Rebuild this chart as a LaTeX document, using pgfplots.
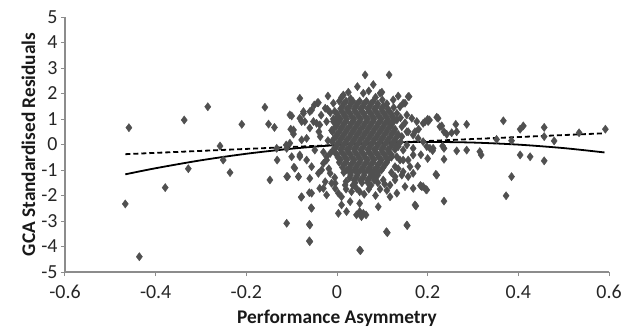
\documentclass[border=0pt]{standalone}
\usepackage{fontspec}
\setmainfont{Carlito}
\usepackage{pgfplots}
\pgfplotsset{compat=1.18}
\definecolor{markgray}{RGB}{80,80,80}
\definecolor{axgray}{RGB}{140,140,140}
\begin{document}
\begin{tikzpicture}[x=1bp,y=1bp]
\begin{axis}[
  at={(0,0)}, anchor=south west,
  scale only axis, width=544bp, height=255bp,
  xmin=-0.6, xmax=0.6, ymin=-5, ymax=5,
  xtick={-0.6,-0.4,-0.2,0,0.2,0.4,0.6},
  xticklabels={-0.6,-0.4,-0.2,0,0.2,0.4,0.6},
  ytick={-5,-4,-3,-2,-1,0,1,2,3,4,5},
  yticklabels={-5,-4,-3,-2,-1,0,1,2,3,4,5},
  axis lines*=left,
  axis line style={draw=axgray, line width=1.4bp},
  tick style={draw=axgray, line width=1bp},
  tick align=outside, major tick length=4bp,
  ticklabel style={font=\fontsize{20}{22}\selectfont, text=black!85},
  xticklabel style={yshift=-6bp},
  xlabel={Performance Asymmetry},
  ylabel={GCA Standardised Residuals},
  label style={font=\fontsize{19.4}{21}\selectfont\bfseries, text=black!90},
  xlabel style={at={(axis description cs:0.5,0)}, anchor=center, yshift=-46bp},
  ylabel style={at={(axis description cs:0,0.5)}, anchor=center, yshift=36.5bp},
]
\addplot[only marks, mark=diamond*, mark size=4.1bp, color=markgray] coordinates {
% far left
(-0.459,0.66) (-0.467,-2.33) (-0.436,-4.40) (-0.379,-1.69) (-0.337,0.96) (-0.328,-0.95)
(-0.285,1.48) (-0.258,-0.06) (-0.251,-0.61) (-0.236,-1.10) (-0.210,0.79)
% -0.2 .. -0.1
(-0.159,1.46) (-0.151,0.80) (-0.138,0.67) (-0.132,-0.61) (-0.148,-1.39) (-0.111,-3.09)
(-0.100,1.12) (-0.102,0.60) (-0.109,-1.26) (-0.095,-0.89) (-0.085,-1.26) (-0.079,-2.07)
(-0.061,-1.89) (-0.057,-2.48) (-0.061,-3.13) (-0.061,-3.78) (-0.043,1.64) (-0.060,1.29)
(-0.078,0.90) (-0.112,-0.02) (-0.133,-0.15) (-0.082,-0.48) (-0.030,-1.72) (-0.021,1.38)
(-0.096,0.41) (-0.067,0.24) (-0.082,1.03) (-0.074,1.22) (-0.056,1.35) (-0.045,0.83)
(-0.037,0.31) (-0.049,-0.22) (-0.023,-0.61) (-0.034,-1.00) (-0.015,-1.13) (-0.004,-1.52)
(-0.104,0.05)
% near core
(-0.082,1.81) (-0.104,1.16) (-0.074,1.29) (-0.041,1.64) (-0.026,1.42)
(-0.008,1.62) (-0.004,0.96) (-0.023,0.90) (-0.038,0.77) (-0.052,0.90) (-0.071,0.90)
(-0.096,0.57) (-0.078,0.18) (-0.111,-0.15) (-0.100,-0.48) (-0.082,-0.41) (-0.067,-0.61)
(-0.093,-0.93) (-0.056,-0.87) (-0.030,-0.74) (-0.023,-0.48) (-0.111,-1.26) (-0.085,-1.26)
(-0.060,-1.33) (-0.041,-1.13) (-0.026,-1.46) (-0.012,-1.52) (-0.004,-1.72) (0.003,-1.91)
(0.018,-1.59) (0.032,-1.85) (0.043,-1.72) (-0.078,-2.05) (-0.056,-1.91) (-0.038,-1.72)
(-0.023,-1.98) (0.010,-2.37) (0.029,-2.24) (0.050,-2.31) (0.058,-2.70) (0.050,-2.63)
(0.064,-2.76) (0.054,-2.83) (0.043,-2.76) (0.021,-2.63) (0.003,-2.70) (-0.056,-2.50)
(-0.060,-3.16) (-0.060,-3.81) (0.050,-4.14) (0.109,-3.42) (0.154,-3.16) (0.091,-2.44)
(0.117,-2.05) (0.132,-1.91) (0.150,-1.65) (0.168,-1.72) (0.172,-2.37) (0.190,-1.65)
(0.198,-1.78) (0.157,-1.26) (0.168,-1.13) (0.146,-1.07) (0.128,-0.87) (0.139,-0.61)
(0.168,-0.41) (0.220,-1.20) (0.198,-0.08) (0.212,-0.15) (0.223,1.03) (0.201,0.90)
(0.190,0.83) (0.176,0.90) (0.165,1.03) (0.154,1.16) (0.139,1.48) (0.150,1.62)
(0.157,1.88) (0.124,1.75) (0.132,1.22) (0.117,0.83) (0.172,0.50) (0.179,0.24)
(0.154,0.50) (0.143,0.31) (0.135,-0.08) (0.146,-0.22) (0.157,-0.61) (0.128,-1.26)
(0.014,1.94) (0.058,2.01) (0.095,2.01) (0.135,1.90) (0.045,2.27) (0.062,2.73) (0.115,2.73)
(0.099,2.05) (0.159,1.88) (0.146,1.62) (0.010,1.85) (0.030,1.80) (0.085,1.85)
(0.132,0.96) (0.143,0.70) (0.157,0.50) (0.168,0.37) (0.154,-0.02) (0.168,-0.15)
(0.132,-0.48) (0.146,-0.61) (0.161,-0.87) (0.143,-1.20) (0.128,-1.39) (0.117,-1.59)
(0.102,-1.39) (0.080,-1.20) (0.155,-3.18) (0.111,-3.46) (0.052,-4.16) (0.187,-1.65)
(0.174,-2.41) (0.184,-1.61) (0.095,-1.75) (0.075,-1.60) (0.020,-1.45) (0.010,-2.05)
(0.085,-2.00) (0.110,-1.80) (0.060,-1.95)
(-0.050,1.55) (-0.035,1.15) (-0.015,1.25) (-0.020,0.15) (-0.030,-0.30) (-0.015,-0.35)
(-0.040,0.50) (-0.060,0.65) (-0.012,0.55) (-0.018,-0.95) (-0.005,-1.30) (0.020,-1.75)
(0.035,-1.60) (0.050,-1.85) (0.070,-1.75) (0.090,-1.50) (0.105,-1.55) (0.120,-1.10)
(0.135,-0.95) (0.140,0.10) (0.150,0.85) (0.140,1.05) (0.125,1.45) (0.110,1.60)
(0.100,1.75) (0.025,2.05) (0.070,2.10) (0.005,1.70) (-0.020,1.90) (0.080,2.35)
% core rows
(0.020,1.70) (0.035,1.70) (0.050,1.70) (0.065,1.70) (0.080,1.70)
(0.015,1.60) (0.030,1.60) (0.045,1.60) (0.060,1.60) (0.075,1.60) (0.090,1.60)
(0.012,1.50) (0.028,1.50) (0.042,1.50) (0.058,1.50) (0.072,1.50) (0.088,1.50) (0.102,1.50)
(0.008,1.40) (0.022,1.40) (0.038,1.40) (0.052,1.40) (0.068,1.40) (0.082,1.40) (0.098,1.40) (0.112,1.40)
(-0.005,1.30) (0.010,1.30) (0.025,1.30) (0.040,1.30) (0.055,1.30) (0.070,1.30) (0.085,1.30) (0.100,1.30) (0.115,1.30)
(0.000,1.20) (0.015,1.20) (0.030,1.20) (0.045,1.20) (0.060,1.20) (0.075,1.20) (0.090,1.20) (0.105,1.20) (0.120,1.20)
(0.002,1.10) (0.018,1.10) (0.032,1.10) (0.048,1.10) (0.062,1.10) (0.078,1.10) (0.092,1.10) (0.108,1.10) (0.122,1.10)
(-0.008,1.00) (0.008,1.00) (0.022,1.00) (0.038,1.00) (0.052,1.00) (0.068,1.00) (0.082,1.00) (0.098,1.00) (0.112,1.00) (0.126,1.00)
(-0.008,0.90) (0.005,0.90) (0.020,0.90) (0.035,0.90) (0.050,0.90) (0.065,0.90) (0.080,0.90) (0.095,0.90) (0.110,0.90) (0.125,0.90)
(0.000,0.80) (0.015,0.80) (0.030,0.80) (0.045,0.80) (0.060,0.80) (0.075,0.80) (0.090,0.80) (0.105,0.80) (0.120,0.80)
(-0.002,0.70) (0.012,0.70) (0.028,0.70) (0.042,0.70) (0.058,0.70) (0.072,0.70) (0.088,0.70) (0.102,0.70) (0.118,0.70)
(-0.008,0.60) (0.008,0.60) (0.022,0.60) (0.038,0.60) (0.052,0.60) (0.068,0.60) (0.082,0.60) (0.098,0.60) (0.112,0.60) (0.128,0.60)
(-0.010,0.50) (0.005,0.50) (0.020,0.50) (0.035,0.50) (0.050,0.50) (0.065,0.50) (0.080,0.50) (0.095,0.50) (0.110,0.50) (0.125,0.50)
(0.000,0.40) (0.015,0.40) (0.030,0.40) (0.045,0.40) (0.060,0.40) (0.075,0.40) (0.090,0.40) (0.105,0.40) (0.120,0.40) (0.135,0.40)
(-0.002,0.30) (0.012,0.30) (0.028,0.30) (0.042,0.30) (0.058,0.30) (0.072,0.30) (0.088,0.30) (0.102,0.30) (0.118,0.30) (0.132,0.30)
(-0.008,0.20) (0.008,0.20) (0.022,0.20) (0.038,0.20) (0.052,0.20) (0.068,0.20) (0.082,0.20) (0.098,0.20) (0.112,0.20) (0.128,0.20)
(-0.010,0.10) (0.005,0.10) (0.020,0.10) (0.035,0.10) (0.050,0.10) (0.065,0.10) (0.080,0.10) (0.095,0.10) (0.110,0.10) (0.125,0.10)
(0.000,0.00) (0.015,0.00) (0.030,0.00) (0.045,0.00) (0.060,0.00) (0.075,0.00) (0.090,0.00) (0.105,0.00) (0.120,0.00) (0.135,0.00)
(-0.002,-0.10) (0.012,-0.10) (0.028,-0.10) (0.042,-0.10) (0.058,-0.10) (0.072,-0.10) (0.088,-0.10) (0.102,-0.10) (0.118,-0.10) (0.130,-0.10)
(-0.008,-0.20) (0.008,-0.20) (0.022,-0.20) (0.038,-0.20) (0.052,-0.20) (0.068,-0.20) (0.082,-0.20) (0.098,-0.20) (0.112,-0.20) (0.128,-0.20)
(-0.005,-0.30) (0.010,-0.30) (0.025,-0.30) (0.040,-0.30) (0.055,-0.30) (0.070,-0.30) (0.085,-0.30) (0.100,-0.30) (0.115,-0.30)
(0.000,-0.40) (0.015,-0.40) (0.030,-0.40) (0.045,-0.40) (0.060,-0.40) (0.075,-0.40) (0.090,-0.40) (0.105,-0.40) (0.120,-0.40)
(0.002,-0.50) (0.018,-0.50) (0.032,-0.50) (0.048,-0.50) (0.062,-0.50) (0.078,-0.50) (0.092,-0.50) (0.108,-0.50) (0.120,-0.50)
(0.008,-0.60) (0.022,-0.60) (0.038,-0.60) (0.052,-0.60) (0.068,-0.60) (0.082,-0.60) (0.098,-0.60) (0.112,-0.60)
(0.005,-0.70) (0.020,-0.70) (0.035,-0.70) (0.050,-0.70) (0.065,-0.70) (0.080,-0.70) (0.095,-0.70) (0.110,-0.70)
(0.015,-0.80) (0.030,-0.80) (0.045,-0.80) (0.060,-0.80) (0.075,-0.80) (0.090,-0.80) (0.105,-0.80)
(0.012,-0.90) (0.028,-0.90) (0.042,-0.90) (0.058,-0.90) (0.072,-0.90) (0.088,-0.90) (0.102,-0.90)
(0.022,-1.00) (0.038,-1.00) (0.052,-1.00) (0.068,-1.00) (0.082,-1.00) (0.098,-1.00)
(0.015,-1.10) (0.030,-1.10) (0.045,-1.10) (0.060,-1.10) (0.075,-1.10) (0.090,-1.10)
(0.030,-1.20) (0.045,-1.20) (0.060,-1.20) (0.075,-1.20) (0.090,-1.20)
(0.028,-1.30) (0.042,-1.30) (0.058,-1.30) (0.072,-1.30) (0.085,-1.30)
(0.038,-1.40) (0.052,-1.40) (0.068,-1.40) (0.082,-1.40)
(0.040,-1.50) (0.055,-1.50) (0.068,-1.50)
% right side
(0.194,0.89) (0.200,0.99) (0.220,1.07) (0.231,0.73) (0.236,0.50) (0.242,0.40) (0.253,0.46)
(0.262,0.79) (0.264,0.50) (0.286,0.79) (0.190,0.11) (0.205,-0.15) (0.211,-0.24) (0.233,-0.06)
(0.236,-0.15) (0.236,-0.58) (0.264,-0.25) (0.286,-0.22) (0.315,-0.28) (0.318,-0.41)
(0.218,-1.17) (0.196,-1.76) (0.236,-2.22) (0.352,0.20) (0.367,0.93) (0.385,0.15)
(0.385,-1.26) (0.373,-2.01) (0.404,0.60) (0.411,0.73) (0.404,-0.41) (0.426,-0.48)
(0.457,0.67) (0.457,0.31) (0.479,0.14) (0.457,-0.64) (0.534,0.46) (0.592,0.60)
(0.204,0.96) (0.227,0.70) (0.180,0.60) (0.185,-0.40) (0.200,-0.55) (0.178,-0.85)
};
\addplot[black, line width=1.8bp, smooth] coordinates {
(-0.467,-1.170) (-0.4,-0.930) (-0.3,-0.619) (-0.2,-0.363) (-0.1,-0.164) (0,-0.020)
(0.1,0.068) (0.2,0.100) (0.3,0.076) (0.4,-0.005) (0.5,-0.141) (0.59,-0.311)
};
\addplot[black, line width=1.8bp, dash pattern=on 5bp off 3bp] coordinates {
(-0.467,-0.38) (0.59,0.44)
};
\end{axis}
\pgfresetboundingbox
\path (-65,-56) rectangle (566,272);
\end{tikzpicture}
\end{document}
